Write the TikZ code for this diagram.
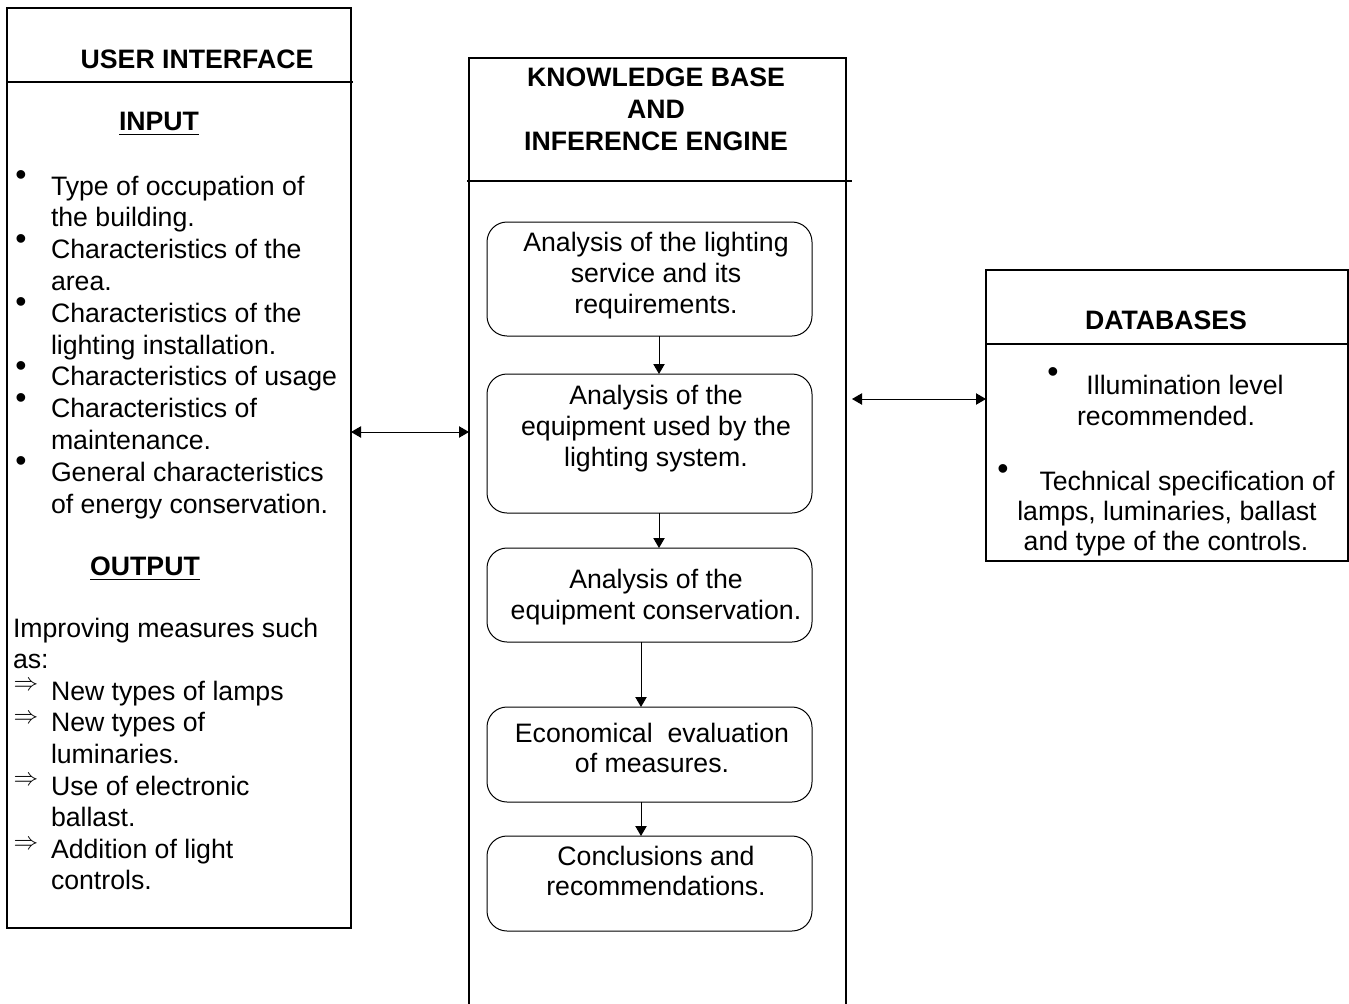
\documentclass[tikz,border=0pt]{standalone}
\usepackage{fontspec}
\setmainfont{Liberation Sans}
\usetikzlibrary{arrows.meta}
\newcommand\myul[1]{\setbox0\hbox{#1}\rlap{\rule[-4pt]{\wd0}{1.3pt}}\box0}
\begin{document}
\begin{tikzpicture}[x=0.75pt,y=-0.75pt,
 every node/.style={inner sep=0pt, outer sep=0pt, font=\fontsize{20}{24}\selectfont},
 frame/.style={draw, line width=1.5pt, rectangle, anchor=north west},
 stepbox/.style={draw, line width=0.75pt, rounded corners=15pt, rectangle, anchor=north west, minimum width=243.75pt},
 divider/.style={line width=0.8pt},
 arr/.style={line width=0.75pt, -{Triangle[length=7.5pt,width=8.5pt]}},
 darr/.style={line width=0.75pt, {Triangle[length=7.5pt,width=8.5pt]}-{Triangle[length=7.5pt,width=8.5pt]}},
 ln/.style={anchor=base west},
 cl/.style={anchor=base},
 ttl/.style={anchor=base, font=\fontsize{20}{24}\selectfont\bfseries},
 bul/.style={anchor=center, font=\fontsize{24}{28}\selectfont},
 impl/.style={anchor=center, font=\fontsize{10}{12}\selectfont, scale=1.85}
]
\fill[white] (0,0) rectangle (1349,1003);
\useasboundingbox (0,0) rectangle (1349,1003);

% ---------- frames ----------
\node[frame, minimum width=258pt, minimum height=690pt] (ui) at (7,8) {};
\node[frame, minimum width=282.75pt, minimum height=715.5pt] (kb) at (469,58) {};
\node[frame, minimum width=271.5pt, minimum height=218.25pt] (db) at (986,270) {};

\coordinate (uidiv) at (0,82);
\coordinate (kbdiv) at (0,181);
\coordinate (dbdiv) at (0,344);
\draw[divider] (ui.west |- uidiv) -- ([xshift=1.5pt]ui.east |- uidiv);
\draw[divider] ([xshift=-1.5pt]kb.west |- kbdiv) -- ([xshift=4.5pt]kb.east |- kbdiv);
\draw[divider] (db.west |- dbdiv) -- (db.east |- dbdiv);

% ---------- user interface ----------
\node[ttl] (uit) at (197,68) {USER INTERFACE};
\node[ttl] (inp) at (159,130) {\myul{INPUT}};

\node[ln] (i1) at (51,195) {Type of occupation of};
\node[ln] (i2) at (51,226.8) {the building.};
\node[ln] (i3) at (51,258.6) {Characteristics of the};
\node[ln] (i4) at (51,290.4) {area.};
\node[ln] (i5) at (51,322.2) {Characteristics of the};
\node[ln] (i6) at (51,354) {lighting installation.};
\node[ln] (i7) at (51,385.8) {Characteristics of usage};
\node[ln] (i8) at (51,417.6) {Characteristics of};
\node[ln] (i9) at (51,449.4) {maintenance.};
\node[ln] (i10) at (51,481.2) {General characteristics};
\node[ln] (i11) at (51,513) {of energy conservation.};

\node[bul] (bu1) at (21,178) {\textbullet};
\node[bul] (bu2) at (21,242) {\textbullet};
\node[bul] (bu3) at (21,305) {\textbullet};
\node[bul] (bu4) at (21,369) {\textbullet};
\node[bul] (bu5) at (21,401) {\textbullet};
\node[bul] (bu6) at (21,464) {\textbullet};

\node[ttl] (outp) at (145,575) {\myul{OUTPUT}};
\node[ln] (o1) at (13,637) {Improving measures such};
\node[ln] (o2) at (13,668.6) {as:};
\node[ln] (o3) at (51,700.2) {New types of lamps};
\node[ln] (o4) at (51,731.8) {New types of};
\node[ln] (o5) at (51,763.4) {luminaries.};
\node[ln] (o6) at (51,795) {Use of electronic};
\node[ln] (o7) at (51,826.6) {ballast.};
\node[ln] (o8) at (51,858.2) {Addition of light};
\node[ln] (o9) at (51,889.8) {controls.};

\node[impl] (im1) at (26,686) {$\Rightarrow$};
\node[impl] (im2) at (26,719) {$\Rightarrow$};
\node[impl] (im3) at (26,781) {$\Rightarrow$};
\node[impl] (im4) at (26,845) {$\Rightarrow$};

% ---------- knowledge base ----------
\node[ttl] (kt1) at (656,86) {KNOWLEDGE BASE};
\node[ttl] (kt2) at (656,118) {AND};
\node[ttl] (kt3) at (656,150) {INFERENCE ENGINE};

\node[stepbox, minimum height=85.5pt] (b1) at (487,222) {};
\node[stepbox, minimum height=104.25pt] (b2) at (487,374) {};
\node[stepbox, minimum height=70.5pt] (b3) at (487,548) {};
\node[stepbox, minimum height=71.25pt] (b4) at (487,707) {};
\node[stepbox, minimum height=71.25pt] (b5) at (487,836) {};

\node[cl] (t11) at (656,251) {Analysis of the lighting};
\node[cl] (t12) at (656,282) {service and its};
\node[cl] (t13) at (656,313) {requirements.};
\node[cl] (t21) at (656,404) {Analysis of the};
\node[cl] (t22) at (656,435) {equipment used by the};
\node[cl] (t23) at (656,466) {lighting system.};
\node[cl] (t31) at (656,588) {Analysis of the};
\node[cl] (t32) at (656,619) {equipment conservation.};
\node[cl] (t41) at (652,742) {Economical\ \ evaluation};
\node[cl] (t42) at (652,772) {of measures.};
\node[cl] (t51) at (656,865) {Conclusions and};
\node[cl] (t52) at (656,895) {recommendations.};

\coordinate (ca) at (659,0);
\coordinate (cb) at (641,0);
\draw[arr] (b1.south -| ca) -- (b2.north -| ca);
\draw[arr] (b2.south -| ca) -- (b3.north -| ca);
\draw[arr] (b3.south -| cb) -- (b4.north -| cb);
\draw[arr] (b4.south -| cb) -- (b5.north -| cb);

% ---------- databases ----------
\node[ttl] (dbt) at (1166,329) {DATABASES};
\node[bul] (db1) at (1053,375) {\textbullet};
\node[cl] (d1) at (1185,394) {Illumination level};
\node[cl] (d2) at (1166,425) {recommended.};
\node[bul] (db2) at (1003,472) {\textbullet};
\node[cl] (d3) at (1187,490) {Technical specification of};
\node[cl] (d4) at (1167,520) {lamps, luminaries, ballast};
\node[cl] (d5) at (1166,550) {and type of the controls.};

% ---------- connections ----------
\coordinate (lrow) at (0,432);
\coordinate (rrow) at (0,399);
\draw[darr] (ui.east |- lrow) -- (kb.west |- lrow);
\draw[darr] ([xshift=4.5pt]kb.east |- rrow) -- (db.west |- rrow);
\end{tikzpicture}
\end{document}
